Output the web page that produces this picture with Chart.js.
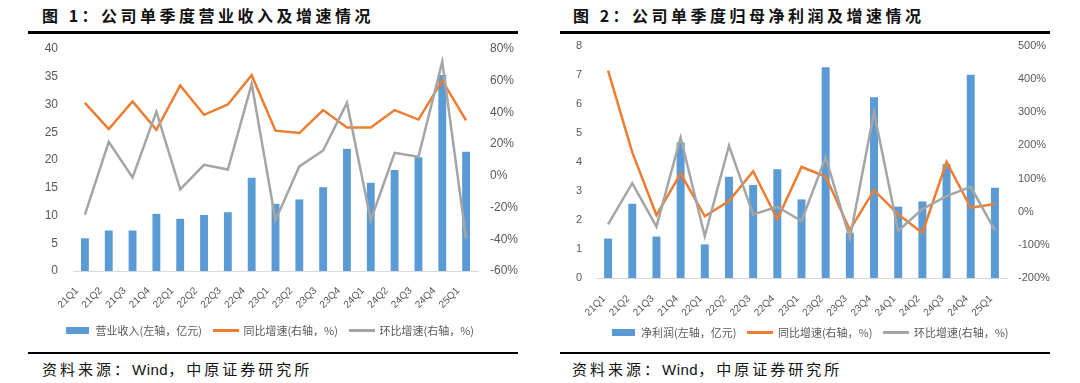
<!DOCTYPE html>
<html>
<head>
<meta charset="utf-8">
<script src="https://cdn.jsdelivr.net/npm/chart.js@4/dist/chart.umd.min.js"></script>
<style>
  html, body { margin:0; padding:0; background:#fff; }
  body { width:1080px; height:383px; position:relative; overflow:hidden; }
  .title { position:absolute; top:4px; font-family:"Noto Sans CJK SC","Noto Sans",sans-serif; font-weight:bold; font-size:16px; letter-spacing:3.5px; color:#111; white-space:nowrap; line-height:22px; }
  .rule { position:absolute; background:#000; }
  .src { position:absolute; top:359px; font-family:"Noto Sans CJK SC","Noto Sans",sans-serif; font-size:15px; letter-spacing:3px; color:#111; white-space:nowrap; line-height:20px; }
  .src .en { font-family:"Liberation Sans",Arial,sans-serif; letter-spacing:0.5px; }
  canvas { position:absolute; }
  .box { position:absolute; top:36px; width:540px; height:316px; }
</style>
</head>
<body>
<div class="title" style="left:42px;">图 1：公司单季度营业收入及增速情况</div>
<div class="title" style="left:573px;">图 2：公司单季度归母净利润及增速情况</div>
<div class="rule" style="left:28px; top:31px; width:490px; height:3px;"></div>
<div class="rule" style="left:560px; top:31px; width:490px; height:3px;"></div>
<div class="rule" style="left:28px; top:352px; width:490px; height:2px;"></div>
<div class="rule" style="left:560px; top:352px; width:490px; height:2px;"></div>
<div class="src" style="left:42px;">资料来源：<span class="en">Wind</span>，中原证券研究所</div>
<div class="src" style="left:572px;">资料来源：<span class="en">Wind</span>，中原证券研究所</div>
<div class="box" style="left:0px;"><canvas id="c1"></canvas></div>
<div class="box" style="left:540px;"><canvas id="c2"></canvas></div>
<script>
const quarters = ['21Q1','21Q2','21Q3','21Q4','22Q1','22Q2','22Q3','22Q4','23Q1','23Q2','23Q3','23Q4','24Q1','24Q2','24Q3','24Q4','25Q1'];

// Chart 1: revenue (亿元) and growth (%)
const revenue    = [5.9, 7.3, 7.3, 10.3, 9.4, 10.1, 10.6, 16.8, 12.1, 12.9, 15.1, 22.0, 15.9, 18.2, 20.5, 35.3, 21.5];
const revenueYoY = [46, 29.5, 47, 29, 57, 38.5, 45, 63.5, 28.5, 27, 41.5, 30.5, 30.5, 41.5, 35.5, 60, 35];
const revenueQoQ = [-24.5, 21.5, -1, 40.5, -8.5, 7, 4, 58, -28, 6, 16, 46, -28, 14.5, 12, 72, -39.5];

// Chart 2: net profit attributable (亿元) and growth (%)
const profit    = [1.36, 2.56, 1.43, 4.67, 1.16, 3.49, 3.21, 3.75, 2.71, 7.27, 1.56, 6.23, 2.46, 2.64, 3.92, 7.01, 3.11];
const profitYoY = [426, 179, -10, 115, -14, 32, 122, -23, 135, 106, -55, 65, -8, -64, 150, 12, 23];
const profitQoQ = [-38, 86, -45, 224, -74, 199, -8, 15, -28, 164, -81, 300, -58, 8, 47, 75, -56];

const legend1 = ['营业收入(左轴，亿元)', '同比增速(右轴，%)', '环比增速(右轴，%)'];
const legend2 = ['净利润(左轴，亿元)', '同比增速(右轴，%)', '环比增速(右轴，%)'];

const BLUE = '#5B9BD5', ORANGE = '#ED7D31', GRAY = '#A5A5A5', TXT = '#595959';

function marker(color, w, h) {
  const c = document.createElement('canvas');
  c.width = w; c.height = h;
  const g = c.getContext('2d');
  g.fillStyle = color; g.fillRect(0, 0, w, h);
  return c;
}
const markers = [marker(BLUE, 23, 7), marker(ORANGE, 26, 3), marker(GRAY, 26, 3)];

function build(id, cfg) {
  const el = document.getElementById(id);
  el.width = 540; el.height = 316;
  el.style.width = '540px'; el.style.height = '316px';
  const fixPad = (s) => { s.paddingTop = 7; s.paddingBottom = 7; };
  return new Chart(el, {
    data: {
      labels: quarters,
      datasets: [
        { type:'bar', label: cfg.names[0], data: cfg.bar, backgroundColor: BLUE, yAxisID:'y', order: 2,
          categoryPercentage: 1, barPercentage: 0.33 },
        { type:'line', label: cfg.names[1], data: cfg.yoy, borderColor: ORANGE, backgroundColor: ORANGE, borderWidth: 2.5,
          pointRadius: 0, tension: 0, yAxisID:'y1', order: 1 },
        { type:'line', label: cfg.names[2], data: cfg.qoq, borderColor: GRAY, backgroundColor: GRAY, borderWidth: 2.5,
          pointRadius: 0, tension: 0, yAxisID:'y1', order: 0 }
      ]
    },
    options: {
      responsive: false,
      animation: false,
      devicePixelRatio: 1,
      layout: { padding: { top: cfg.padTop, bottom: cfg.padBottom, left: 0, right: 0 } },
      plugins: {
        tooltip: { enabled: false },
        legend: {
          position: 'bottom',
          labels: {
            usePointStyle: true,
            pointStyleWidth: 24,
            padding: 12,
            color: TXT,
            font: { family: '"Noto Sans CJK SC", sans-serif', size: 11 },
            generateLabels: (chart) => chart.data.datasets.map((d, i) => ({
              text: d.label, fillStyle: 'rgba(0,0,0,0)', strokeStyle: 'rgba(0,0,0,0)', lineWidth: 0,
              pointStyle: markers[i], datasetIndex: i, hidden: false, fontColor: TXT
            }))
          }
        }
      },
      scales: {
        x: {
          grid: { display: false, drawTicks: false },
          border: { display: true, color: '#D9D9D9', width: 1 },
          ticks: { color: TXT, font: { family: '"Liberation Sans", Arial, sans-serif', size: 10 },
                   minRotation: 45, maxRotation: 45, autoSkip: false, padding: cfg.xPad, labelOffset: cfg.xOff },
          afterFit: (s) => { s.height = cfg.xH; s._computeLabelArea = () => null; }
        },
        y: {
          position: 'left', min: 0, max: cfg.leftMax,
          grid: { display: false, drawTicks: false }, border: { display: false },
          ticks: { stepSize: cfg.leftStep, color: TXT, padding: cfg.leftPad,
                   font: { family: '"Liberation Sans", Arial, sans-serif', size: cfg.tickSize } },
          afterFit: (s) => { s.width = cfg.leftW; fixPad(s); }
        },
        y1: {
          position: 'right', min: cfg.rMin, max: cfg.rMax,
          grid: { display: false, drawTicks: false }, border: { display: false },
          ticks: { stepSize: cfg.rStep, color: TXT, padding: cfg.rightPad,
                   font: { family: '"Liberation Sans", Arial, sans-serif', size: cfg.tickSize },
                   callback: (v) => v + '%' },
          afterFit: (s) => { s.width = cfg.rightW; fixPad(s); }
        }
      }
    }
  });
}

build('c1', { bar: revenue, yoy: revenueYoY, qoq: revenueQoQ, names: legend1,
  leftMax: 40, leftStep: 5, rMin: -60, rMax: 80, rStep: 20,
  leftW: 73, rightW: 62, leftPad: 15, rightPad: 12, tickSize: 12,
  padTop: 13, padBottom: 6, xH: 42, xPad: 14, xOff: -8 });

build('c2', { bar: profit, yoy: profitYoY, qoq: profitQoQ, names: legend2,
  leftMax: 8, leftStep: 1, rMin: -200, rMax: 500, rStep: 100,
  leftW: 56, rightW: 73, leftPad: 14, rightPad: 11, tickSize: 11,
  padTop: 10, padBottom: 4, xH: 37, xPad: 15, xOff: -4 });
</script>
</body>
</html>
